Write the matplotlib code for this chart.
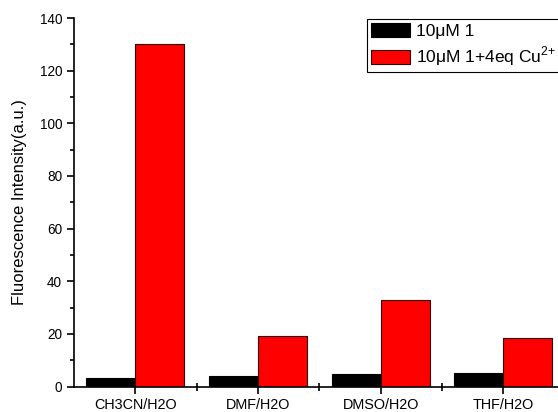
import numpy as np
import matplotlib
matplotlib.use("Agg")
import matplotlib.pyplot as plt
from matplotlib.ticker import MultipleLocator

plt.rcParams['font.family'] = ['Liberation Sans', 'DejaVu Sans']
plt.rcParams['mathtext.fontset'] = 'custom'
plt.rcParams['mathtext.rm'] = 'Liberation Sans'

disolventes = ['CH3CN/H2O', 'DMF/H2O', 'DMSO/H2O', 'THF/H2O']
solo = [3.3, 3.8, 4.6, 5.2]
con_cu = [130.3, 19.1, 33.0, 18.3]

fig = plt.figure(figsize=(5.58, 4.12), dpi=100)
ax = fig.add_axes([74 / 558, 25.5 / 412, 490.5 / 558, 368.5 / 412])

x = np.arange(len(disolventes))
ancho = 0.4
ax.bar(x - ancho / 2, solo, ancho, color='black', edgecolor='black',
       linewidth=0.8, label='10μM 1')
ax.bar(x + ancho / 2, con_cu, ancho, color='#ff0000', edgecolor='#300000',
       linewidth=0.8, label=r'10μM 1+4eq Cu$^{\mathregular{2\!+}}$')

ax.set_xlim(-0.5, len(disolventes) - 0.5)
ax.set_ylim(0, 140)
ax.set_xticks(x)
ax.set_xticklabels(disolventes, fontsize=10.4)
ax.set_xticks(x[:-1] + 0.5, minor=True)
ax.yaxis.set_major_locator(MultipleLocator(20))
ax.yaxis.set_minor_locator(MultipleLocator(10))
ax.tick_params(axis='y', labelsize=9.8)
ax.tick_params(which='major', direction='out', length=5, width=1.2)
ax.tick_params(which='minor', direction='out', length=3, width=1.2)
ax.tick_params(axis='x', which='minor', direction='inout', length=6)

ax.spines['top'].set_visible(False)
ax.spines['right'].set_visible(False)
ax.spines['left'].set_linewidth(1.2)
ax.spines['bottom'].set_linewidth(1.2)

ax.set_ylabel('Fluorescence Intensity(a.u.)', fontsize=12, labelpad=9)

leg = ax.legend(loc='upper left', bbox_to_anchor=(367 / 558, 1 - 19 / 412),
                bbox_transform=fig.transFigure, borderaxespad=0,
                fontsize=12.5, fancybox=False, edgecolor='black',
                framealpha=1, handlelength=2.25, handleheight=0.86,
                labelspacing=0.3, borderpad=0.25, handletextpad=0.3)
leg.get_frame().set_linewidth(0.8)

fig.savefig('out.png', dpi=100)
